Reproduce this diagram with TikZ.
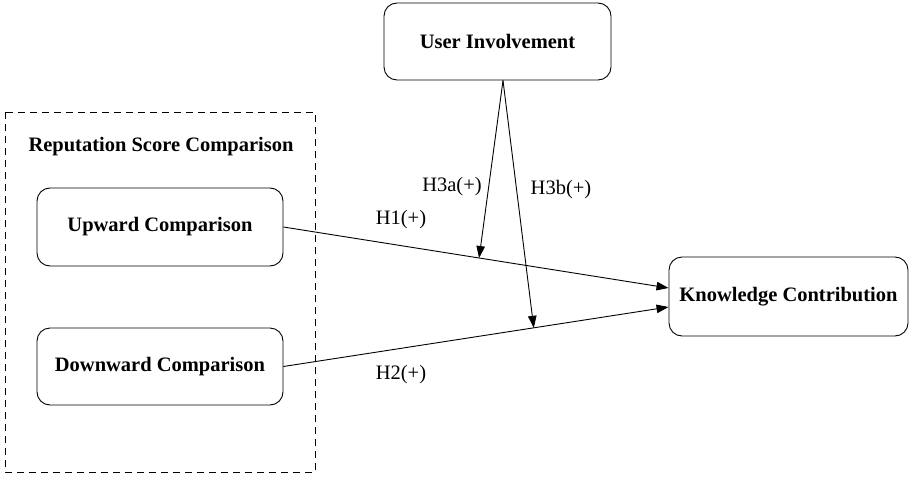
\documentclass[tikz,border=0pt]{standalone}
\usepackage{fontspec}
\setmainfont{Liberation Serif}
\usetikzlibrary{arrows.meta}
\begin{document}
\begin{tikzpicture}[x=1pt,y=-1pt,
  font=\fontsize{20.5}{24}\selectfont,
  box/.style={draw, line width=0.9pt, rounded corners=13pt, font=\fontsize{20.5}{24}\selectfont\bfseries, inner sep=0pt},
  link/.style={line width=0.9pt, -{Triangle[length=12pt,width=8.5pt]}},
  group/.style={draw, line width=0.9pt, dash pattern=on 7pt off 5pt}]
\useasboundingbox (0,0) rectangle (909,476);
% grouping frame
\draw[group] (5,112) rectangle (315,472);
\node[font=\fontsize{20.5}{24}\selectfont\bfseries] (rsc) at (161,147) {Reputation Score Comparison};
% construct boxes
\node[box, minimum width=227pt, minimum height=77pt] (ui) at (497.5,41.5) {User Involvement};
\node[box, minimum width=246pt, minimum height=78pt] (up) at (160,227) {Upward Comparison};
\node[box, minimum width=246pt, minimum height=77pt] (dn) at (160,366.5) {Downward Comparison};
\node[box, minimum width=239pt, minimum height=79pt] (kc) at (788.5,296.5) {Knowledge Contribution};
% main effects
\draw[link] (up.east) -- coordinate[pos=0.508] (m1) ([yshift=8.5pt]kc.west);
\draw[link] (dn.east) -- coordinate[pos=0.650] (m2) ([yshift=-10.5pt]kc.west);
% moderation
\coordinate (apex) at ([xshift=5.5pt]ui.south);
\draw[link] (apex) -- (m1);
\draw[link] (apex) -- (m2);
% hypothesis labels
\node (h1) at (401,220) {H1(+)};
\node (h2) at (401,375) {H2(+)};
\node (h3a) at (452,187) {H3a(+)};
\node (h3b) at (561,190) {H3b(+)};
\end{tikzpicture}
\end{document}
